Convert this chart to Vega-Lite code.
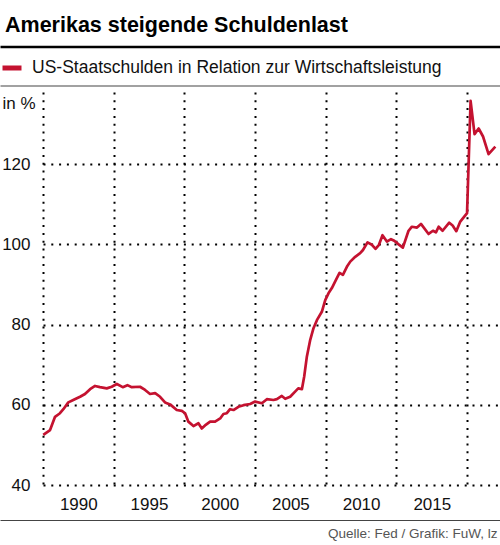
{
  "$schema": "https://vega.github.io/schema/vega-lite/v6.json",
  "autosize": "none",
  "padding": {"left": 43, "top": 92, "right": 0, "bottom": 60},
  "width": 457,
  "height": 393,
  "background": "#ffffff",
  "title": {
    "text": "Amerikas steigende Schuldenlast",
    "anchor": "start",
    "frame": "group",
    "font": "Liberation Sans",
    "fontSize": 21.5,
    "fontWeight": "bold",
    "color": "#000000",
    "dx": -38,
    "dy": 19,
    "offset": 12,
    "baseline": "alphabetic"
  },
  "data": {
    "values": [
      {"year": 1990.02, "value": 52.5},
      {"year": 1990.50, "value": 53.7},
      {"year": 1990.85, "value": 57.0},
      {"year": 1991.20, "value": 57.9},
      {"year": 1991.44, "value": 58.9},
      {"year": 1991.79, "value": 60.6},
      {"year": 1992.14, "value": 61.2},
      {"year": 1992.62, "value": 62.0},
      {"year": 1992.97, "value": 62.7},
      {"year": 1993.33, "value": 63.9},
      {"year": 1993.68, "value": 64.7},
      {"year": 1994.03, "value": 64.4},
      {"year": 1994.51, "value": 64.1},
      {"year": 1994.86, "value": 64.5},
      {"year": 1995.22, "value": 65.2},
      {"year": 1995.64, "value": 64.4},
      {"year": 1995.97, "value": 64.9},
      {"year": 1996.28, "value": 64.4},
      {"year": 1996.86, "value": 64.5},
      {"year": 1997.22, "value": 63.7},
      {"year": 1997.57, "value": 62.7},
      {"year": 1997.93, "value": 62.9},
      {"year": 1998.28, "value": 62.0},
      {"year": 1998.63, "value": 60.6},
      {"year": 1998.99, "value": 60.1},
      {"year": 1999.46, "value": 58.7},
      {"year": 1999.82, "value": 58.5},
      {"year": 2000.05, "value": 57.9},
      {"year": 2000.28, "value": 55.8},
      {"year": 2000.64, "value": 54.7},
      {"year": 2000.99, "value": 55.4},
      {"year": 2001.23, "value": 54.1},
      {"year": 2001.51, "value": 55.0},
      {"year": 2001.82, "value": 55.8},
      {"year": 2002.17, "value": 55.8},
      {"year": 2002.53, "value": 56.6},
      {"year": 2002.76, "value": 57.7},
      {"year": 2003.00, "value": 57.9},
      {"year": 2003.23, "value": 58.9},
      {"year": 2003.47, "value": 58.7},
      {"year": 2003.82, "value": 59.5},
      {"year": 2004.18, "value": 59.9},
      {"year": 2004.65, "value": 60.2},
      {"year": 2005.00, "value": 60.8},
      {"year": 2005.48, "value": 60.4},
      {"year": 2005.83, "value": 61.4},
      {"year": 2006.30, "value": 61.2},
      {"year": 2006.54, "value": 61.4},
      {"year": 2006.89, "value": 62.2},
      {"year": 2007.13, "value": 61.5},
      {"year": 2007.48, "value": 62.0},
      {"year": 2007.83, "value": 63.3},
      {"year": 2008.05, "value": 64.1},
      {"year": 2008.31, "value": 63.9},
      {"year": 2008.47, "value": 67.0},
      {"year": 2008.66, "value": 72.0},
      {"year": 2008.90, "value": 76.2},
      {"year": 2009.13, "value": 79.1},
      {"year": 2009.37, "value": 81.1},
      {"year": 2009.72, "value": 83.2},
      {"year": 2009.96, "value": 86.1},
      {"year": 2010.19, "value": 87.8},
      {"year": 2010.43, "value": 89.1},
      {"year": 2010.71, "value": 91.1},
      {"year": 2010.97, "value": 92.9},
      {"year": 2011.21, "value": 92.4},
      {"year": 2011.49, "value": 94.4},
      {"year": 2011.73, "value": 95.7},
      {"year": 2012.08, "value": 96.9},
      {"year": 2012.43, "value": 97.8},
      {"year": 2012.63, "value": 98.6},
      {"year": 2012.95, "value": 100.5},
      {"year": 2013.26, "value": 99.9},
      {"year": 2013.52, "value": 98.9},
      {"year": 2013.76, "value": 99.9},
      {"year": 2014.01, "value": 102.3},
      {"year": 2014.32, "value": 100.7},
      {"year": 2014.61, "value": 101.3},
      {"year": 2014.84, "value": 100.9},
      {"year": 2015.15, "value": 100.0},
      {"year": 2015.45, "value": 99.2},
      {"year": 2015.85, "value": 103.4},
      {"year": 2016.09, "value": 104.4},
      {"year": 2016.45, "value": 104.2},
      {"year": 2016.73, "value": 105.1},
      {"year": 2017.27, "value": 102.6},
      {"year": 2017.58, "value": 103.4},
      {"year": 2017.79, "value": 103.0},
      {"year": 2017.98, "value": 104.4},
      {"year": 2018.26, "value": 103.4},
      {"year": 2018.73, "value": 105.4},
      {"year": 2018.97, "value": 104.7},
      {"year": 2019.23, "value": 103.3},
      {"year": 2019.51, "value": 105.7},
      {"year": 2019.99, "value": 107.8},
      {"year": 2020.24, "value": 135.8},
      {"year": 2020.52, "value": 127.5},
      {"year": 2020.81, "value": 128.9},
      {"year": 2021.12, "value": 126.9},
      {"year": 2021.51, "value": 122.5},
      {"year": 2021.99, "value": 124.4}
    ]
  },
  "layer": [
    {
      "mark": {"type": "line", "strokeWidth": 2.7, "strokeJoin": "round"},
      "encoding": {
        "x": {
          "field": "year",
          "type": "quantitative",
          "scale": {"domain": [1990, 2022.32], "nice": false, "zero": false},
          "axis": {
            "orient": "bottom",
            "values": [1990, 1995, 2000, 2005, 2010, 2015, 2020],
            "labelExpr": "datum.value == 2020 ? '' : datum.value",
            "grid": true,
            "gridColor": "#000000",
            "gridDash": [2, 5.8],
            "gridWidth": 2,
            "gridOpacity": 1,
            "domain": false,
            "ticks": false,
            "labelOffset": 35.3,
            "labelPadding": 11,
            "labelFont": "Liberation Sans",
            "labelFontSize": 17,
            "labelColor": "#111111",
            "labelBound": false,
            "labelFlush": false,
            "labelOverlap": false,
            "title": null
          }
        },
        "y": {
          "field": "value",
          "type": "quantitative",
          "scale": {"domain": [40, 138], "nice": false, "zero": false},
          "axis": {
            "values": [40, 60, 80, 100, 120],
            "grid": true,
            "gridColor": "#000000",
            "gridDash": [2, 5.8],
            "gridWidth": 2,
            "gridOpacity": 1,
            "domain": false,
            "ticks": false,
            "labelPadding": 13,
            "labelFont": "Liberation Sans",
            "labelFontSize": 17,
            "labelColor": "#111111",
            "title": "in %",
            "titleAngle": 0,
            "titleX": -41,
            "titleY": 11,
            "titleAlign": "left",
            "titleBaseline": "middle",
            "titleFont": "Liberation Sans",
            "titleFontSize": 17,
            "titleFontWeight": "normal",
            "titleColor": "#111111"
          }
        },
        "color": {
          "datum": "US-Staatschulden in Relation zur Wirtschaftsleistung",
          "scale": {"range": ["#c41230"]},
          "legend": {
            "orient": "none",
            "legendX": -43,
            "legendY": -36,
            "title": null,
            "padding": 0,
            "symbolType": "stroke",
            "symbolStrokeWidth": 5,
            "symbolSize": 361,
            "labelOffset": 8,
            "labelFont": "Liberation Sans",
            "labelFontSize": 17.5,
            "labelColor": "#111111",
            "labelLimit": 500
          }
        }
      }
    },
    {
      "mark": {"type": "rule", "opacity": 0},
      "encoding": {
        "x": {
          "field": "year",
          "type": "quantitative",
          "scale": {"domain": [1990, 2022.32], "range": [-43, 457], "nice": false, "zero": false},
          "axis": {
            "orient": "top",
            "offset": 45.5,
            "domain": true,
            "domainColor": "#000000",
            "domainWidth": 2.6,
            "labels": false,
            "ticks": false,
            "grid": false,
            "title": null
          }
        }
      }
    },
    {
      "mark": {"type": "rule", "opacity": 0},
      "encoding": {
        "x": {
          "field": "year",
          "type": "quantitative",
          "scale": {"domain": [1990, 2022.32], "range": [-43, 457], "nice": false, "zero": false},
          "axis": {
            "orient": "top",
            "offset": 6.5,
            "domain": true,
            "domainColor": "#444444",
            "domainWidth": 1.2,
            "labels": false,
            "ticks": false,
            "grid": false,
            "title": null
          }
        }
      }
    },
    {
      "mark": {"type": "rule", "opacity": 0},
      "encoding": {
        "x": {
          "field": "year",
          "type": "quantitative",
          "scale": {"domain": [1990, 2022.32], "range": [-43, 457], "nice": false, "zero": false},
          "axis": {
            "orient": "bottom",
            "offset": 35,
            "domain": true,
            "domainColor": "#444444",
            "domainWidth": 1.2,
            "labels": false,
            "ticks": false,
            "grid": false,
            "title": "Quelle: Fed / Grafik: FuW, lz",
            "titleX": 454,
            "titleAlign": "right",
            "titlePadding": 6,
            "titleFont": "Liberation Sans",
            "titleFontSize": 13.5,
            "titleFontWeight": "normal",
            "titleColor": "#555555"
          }
        }
      }
    }
  ],
  "resolve": {"scale": {"x": "independent"}, "axis": {"x": "independent"}},
  "config": {"view": {"stroke": null}}
}
